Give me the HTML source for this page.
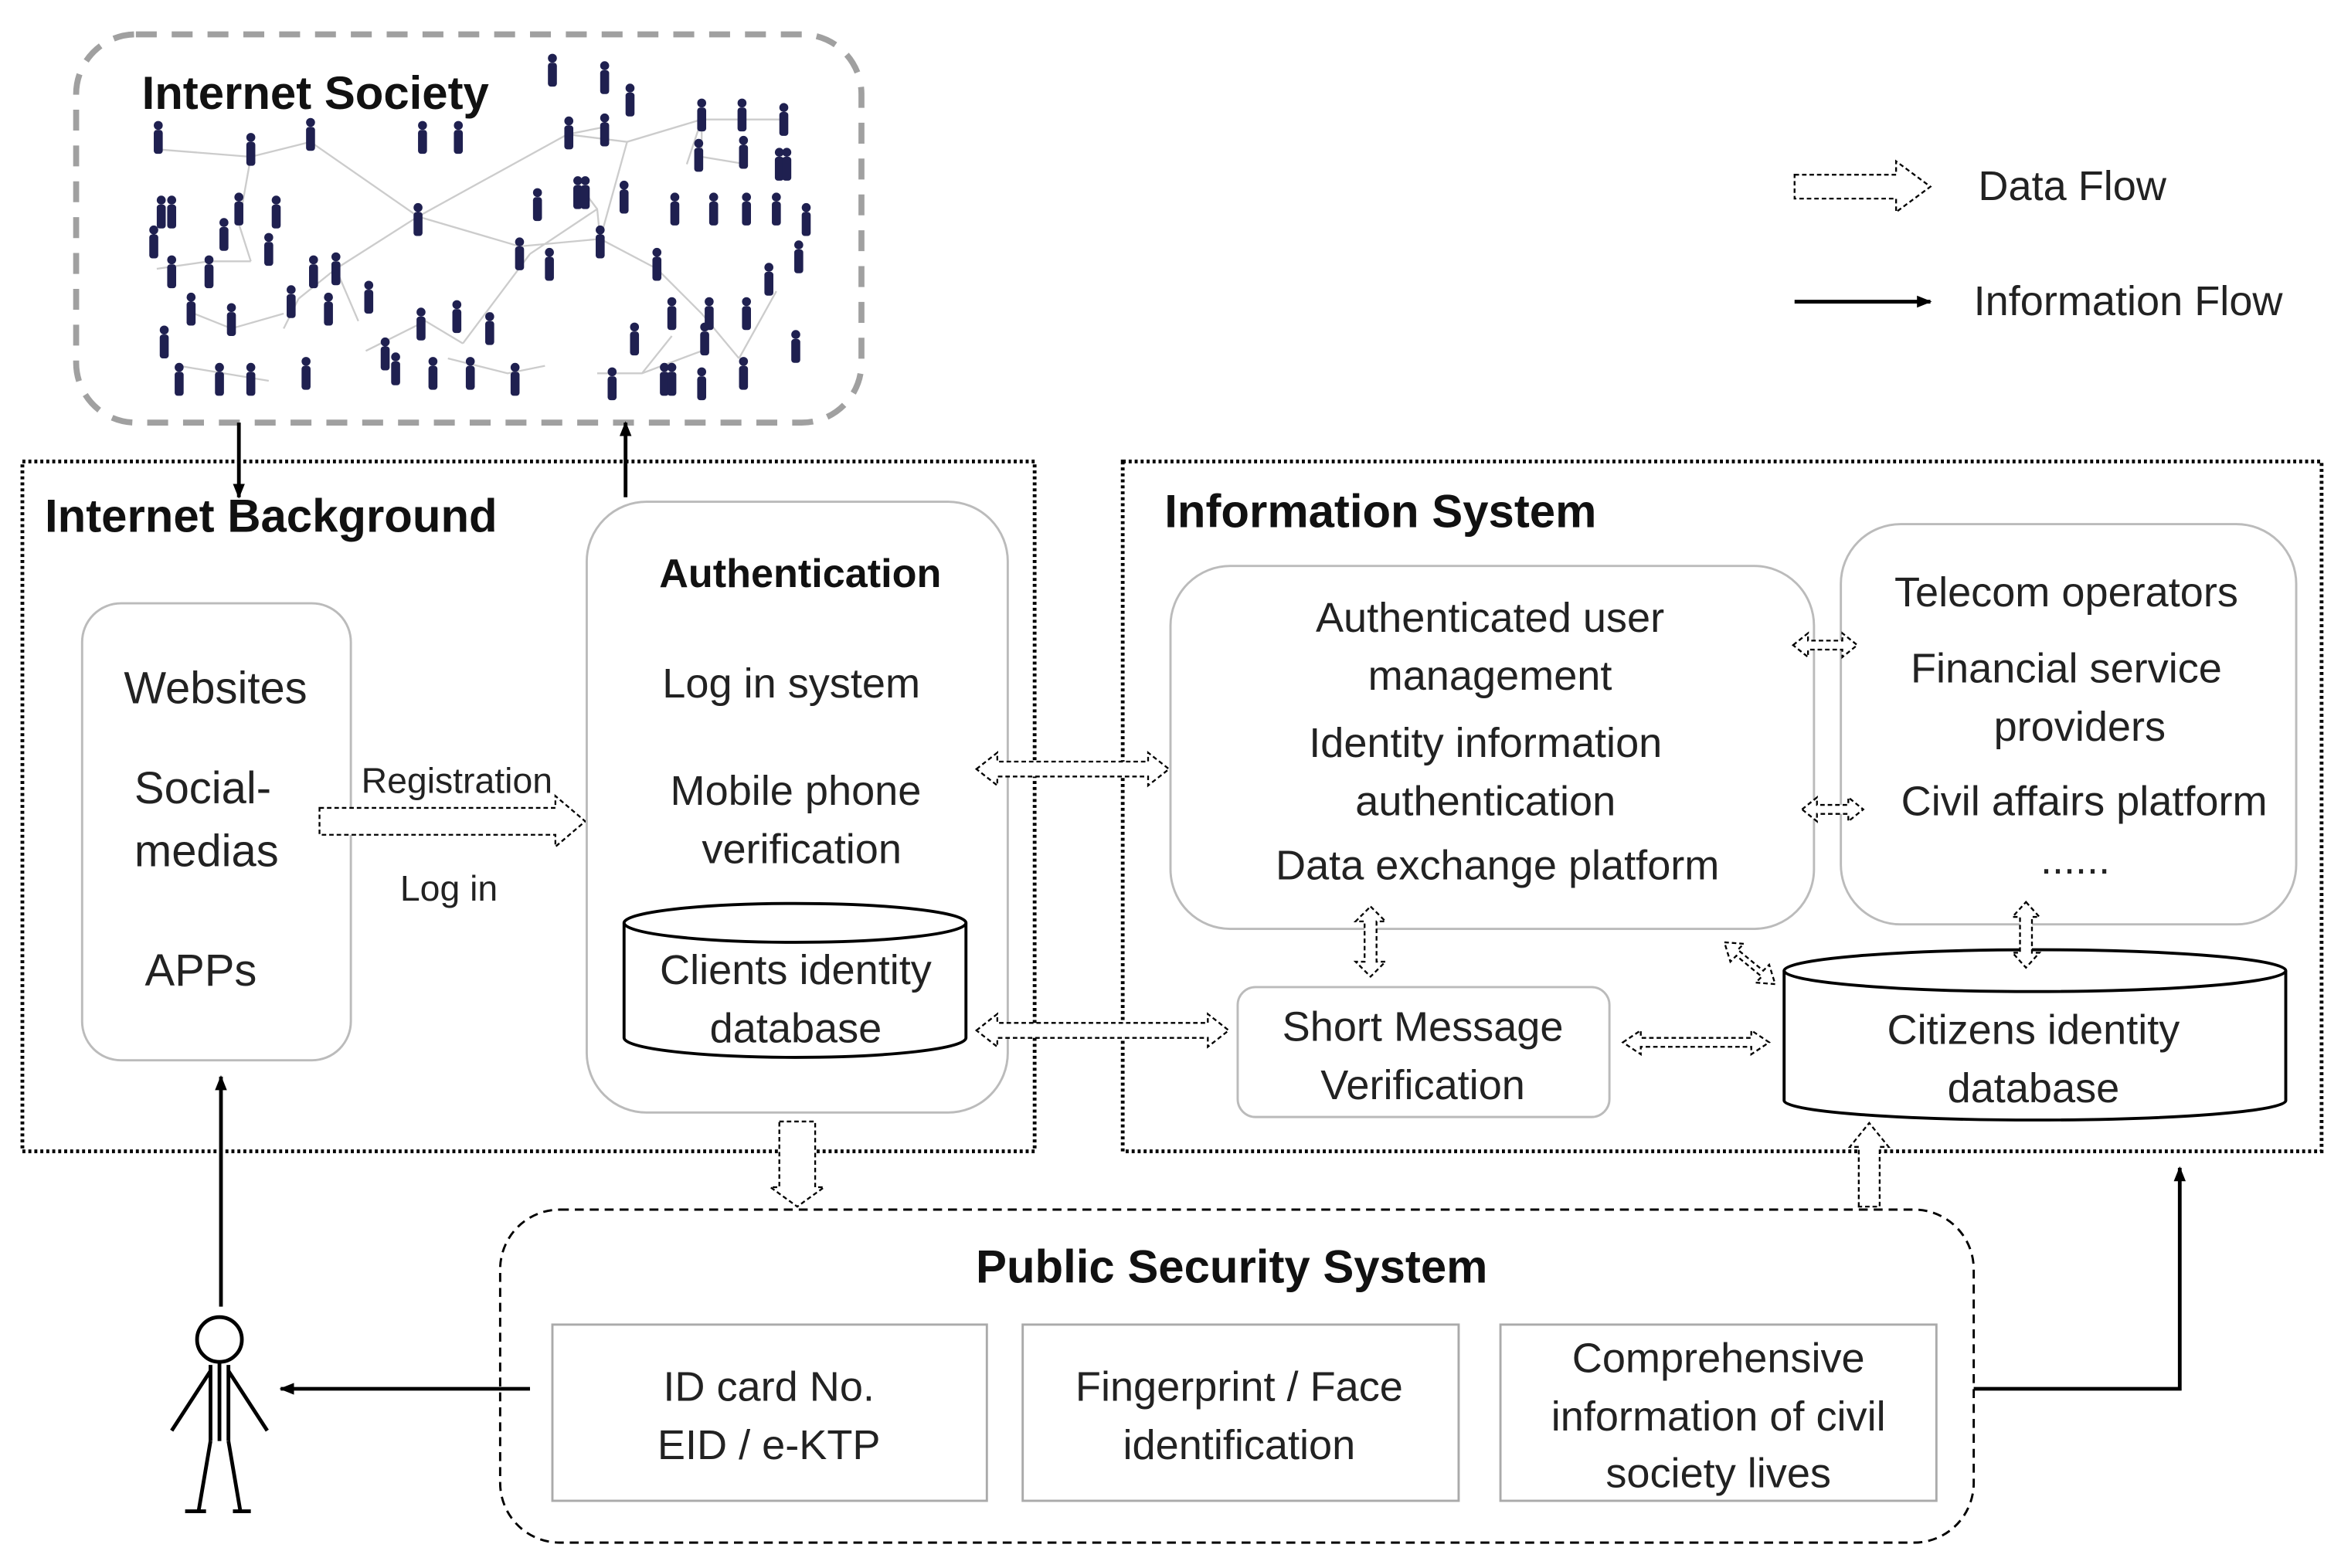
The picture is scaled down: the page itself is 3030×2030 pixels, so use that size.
<!DOCTYPE html>
<html><head><meta charset="utf-8"><style>
html,body{margin:0;padding:0;background:#fff}
svg{display:block}
text{font-family:"Liberation Sans",sans-serif;fill:#222}
.t{font-size:28px}
.b{font-weight:bold;fill:#111}
</style></head><body>
<svg width="3030" height="2030" viewBox="0 0 1568 1050" preserveAspectRatio="none" xmlns="http://www.w3.org/2000/svg">
<defs>
<g id="p"><circle cx="0" cy="-16" r="3" fill="#1f2050"/><rect x="-3" y="-13" width="6" height="16" rx="2" fill="#1f2050"/></g>
<marker id="ah" markerWidth="10" markerHeight="10" refX="9" refY="5" orient="auto" markerUnits="userSpaceOnUse"><path d="M0,1 L10,5 L0,9 z" fill="#000"/></marker>
</defs>
<!-- Internet Society -->
<rect x="51" y="23" width="526" height="260" rx="40" fill="none" stroke="#a0a0a0" stroke-width="4" stroke-dasharray="14,10"/>
<g stroke="#ccc" stroke-width="1.2" fill="none">
<path d="M105,100 L168,105 L208,95 M168,105 L160,150 M208,95 L280,145 L380,90 L405,85 M280,145 L225,180 L200,200 M280,145 L348,165 L402,160 L400,140 L385,120 M402,160 L440,180 M402,160 L420,95 M380,90 L420,95 L470,80 L525,80 M470,80 L470,105 L500,110 M105,180 L140,175 L168,175 M168,175 L160,150 M200,200 L190,220 M225,180 L240,215 M130,210 L155,220 L190,210 M245,235 L285,215 L310,230 M310,230 L355,170 M355,170 L400,140 M440,180 L470,210 L495,240 M495,240 L520,195 M470,80 L460,110 M120,245 L150,250 L180,255 M300,240 L340,250 L365,245 M400,250 L430,250 L470,235 M430,250 L450,225"/>
</g>
<g>
<use href="#p" x="370" y="55"/><use href="#p" x="405" y="60"/><use href="#p" x="422" y="75"/><use href="#p" x="470" y="85"/><use href="#p" x="497" y="85"/><use href="#p" x="525" y="88"/>
<use href="#p" x="106" y="100"/><use href="#p" x="168" y="108"/><use href="#p" x="208" y="98"/><use href="#p" x="283" y="100"/><use href="#p" x="307" y="100"/><use href="#p" x="381" y="97"/><use href="#p" x="405" y="95"/>
<use href="#p" x="468" y="112"/><use href="#p" x="498" y="110"/><use href="#p" x="522" y="118"/><use href="#p" x="527" y="118"/>
<use href="#p" x="108" y="150"/><use href="#p" x="115" y="150"/><use href="#p" x="160" y="148"/><use href="#p" x="185" y="150"/><use href="#p" x="280" y="155"/><use href="#p" x="360" y="145"/><use href="#p" x="387" y="137"/><use href="#p" x="392" y="137"/><use href="#p" x="418" y="140"/><use href="#p" x="452" y="148"/><use href="#p" x="478" y="148"/><use href="#p" x="500" y="148"/><use href="#p" x="520" y="148"/><use href="#p" x="540" y="155"/>
<use href="#p" x="103" y="170"/><use href="#p" x="150" y="165"/><use href="#p" x="180" y="175"/><use href="#p" x="348" y="178"/><use href="#p" x="368" y="185"/><use href="#p" x="402" y="170"/><use href="#p" x="440" y="185"/><use href="#p" x="535" y="180"/>
<use href="#p" x="115" y="190"/><use href="#p" x="140" y="190"/><use href="#p" x="210" y="190"/><use href="#p" x="225" y="188"/><use href="#p" x="195" y="210"/><use href="#p" x="220" y="215"/><use href="#p" x="247" y="207"/><use href="#p" x="515" y="195"/>
<use href="#p" x="128" y="215"/><use href="#p" x="155" y="222"/><use href="#p" x="282" y="225"/><use href="#p" x="306" y="220"/><use href="#p" x="328" y="228"/><use href="#p" x="450" y="218"/><use href="#p" x="475" y="218"/><use href="#p" x="500" y="218"/>
<use href="#p" x="110" y="237"/><use href="#p" x="258" y="245"/><use href="#p" x="425" y="235"/><use href="#p" x="472" y="235"/><use href="#p" x="533" y="240"/>
<use href="#p" x="120" y="262"/><use href="#p" x="147" y="262"/><use href="#p" x="168" y="262"/><use href="#p" x="205" y="258"/><use href="#p" x="265" y="255"/><use href="#p" x="290" y="258"/><use href="#p" x="315" y="258"/><use href="#p" x="345" y="262"/><use href="#p" x="410" y="265"/><use href="#p" x="445" y="262"/><use href="#p" x="450" y="262"/><use href="#p" x="470" y="265"/><use href="#p" x="498" y="258"/>
</g>
<text x="95" y="73" class="b" style="font-size:31px">Internet Society</text>
<line x1="160" y1="283" x2="160" y2="333" stroke="#000" stroke-width="2.5" marker-end="url(#ah)"/>
<line x1="419" y1="333" x2="419" y2="283" stroke="#000" stroke-width="2.5" marker-end="url(#ah)"/>
<!-- Legend -->
<path d="M1202,117 H1270 V108 L1293,125 L1270,142 V133 H1202 Z" fill="#fff" stroke="#000" stroke-width="1.2" stroke-dasharray="3,2"/>
<text x="1325" y="134" class="t">Data Flow</text>
<line x1="1202" y1="202" x2="1293" y2="202" stroke="#000" stroke-width="2.5" marker-end="url(#ah)"/>
<text x="1322" y="211" class="t">Information Flow</text>
<!-- Internet Background -->
<rect x="15" y="309" width="678" height="462" fill="none" stroke="#000" stroke-width="2.5" stroke-dasharray="2,2"/>
<text x="30" y="356" class="b" style="font-size:31px">Internet Background</text>
<rect x="55" y="404" width="180" height="306" rx="26" fill="#fff" stroke="#bbb" stroke-width="1.5"/>
<text x="83" y="471" class="t" style="font-size:30px">Websites</text>
<text x="90" y="538" class="t" style="font-size:30px">Social-</text>
<text x="90" y="580" class="t" style="font-size:30px">medias</text>
<text x="97" y="660" class="t" style="font-size:30px">APPs</text>
<path d="M214,541 H372 V533 L392,550 L372,567 V559 H214 Z" fill="#fff" stroke="#000" stroke-width="1.2" stroke-dasharray="3,2"/>
<text x="242" y="531" style="font-size:24px">Registration</text>
<text x="268" y="603" style="font-size:24px">Log in</text>
<rect x="393" y="336" width="282" height="409" rx="40" fill="#fff" stroke="#bbb" stroke-width="1.5"/>
<text x="536" y="393" class="b" text-anchor="middle" style="font-size:27px">Authentication</text>
<text x="530" y="467" class="t" text-anchor="middle">Log in system</text>
<text x="533" y="539" class="t" text-anchor="middle">Mobile phone</text>
<text x="537" y="578" class="t" text-anchor="middle">verification</text>
<path d="M418,618 V695 A114,13 0 0 0 647,695 V618" fill="#fff" stroke="#000" stroke-width="2"/>
<ellipse cx="532.5" cy="618" rx="114.5" ry="13" fill="#fff" stroke="#000" stroke-width="2"/>
<text x="533" y="659" class="t" text-anchor="middle">Clients  identity</text>
<text x="533" y="698" class="t" text-anchor="middle">database</text>
<!-- Information System -->
<rect x="752" y="309" width="803" height="462" fill="none" stroke="#000" stroke-width="2.5" stroke-dasharray="2,2"/>
<text x="780" y="353" class="b" style="font-size:31px">Information System</text>
<rect x="784" y="379" width="431" height="243" rx="40" fill="#fff" stroke="#bbb" stroke-width="1.5"/>
<text x="998" y="423" class="t" text-anchor="middle">Authenticated user</text>
<text x="998" y="462" class="t" text-anchor="middle">management</text>
<text x="995" y="507" class="t" text-anchor="middle">Identity information</text>
<text x="995" y="546" class="t" text-anchor="middle">authentication</text>
<text x="1003" y="589" class="t" text-anchor="middle">Data exchange platform</text>
<rect x="1233" y="351" width="305" height="268" rx="40" fill="#fff" stroke="#bbb" stroke-width="1.5"/>
<text x="1384" y="406" class="t" text-anchor="middle">Telecom operators</text>
<text x="1384" y="457" class="t" text-anchor="middle">Financial  service</text>
<text x="1393" y="496" class="t" text-anchor="middle">providers</text>
<text x="1396" y="546" class="t" text-anchor="middle">Civil affairs platform</text>
<text x="1390" y="585" class="t" text-anchor="middle">......</text>
<rect x="829" y="661" width="249" height="87" rx="12" fill="#fff" stroke="#bbb" stroke-width="1.5"/>
<text x="953" y="697" class="t" text-anchor="middle">Short Message</text>
<text x="953" y="736" class="t" text-anchor="middle">Verification</text>
<path d="M1195,650 V737 A168,13 0 0 0 1531,737 V650" fill="#fff" stroke="#000" stroke-width="2"/>
<ellipse cx="1363" cy="650" rx="168" ry="14" fill="#fff" stroke="#000" stroke-width="2"/>
<text x="1362" y="699" class="t" text-anchor="middle">Citizens  identity</text>
<text x="1362" y="738" class="t" text-anchor="middle">database</text>
<!-- Public Security -->
<rect x="335" y="810" width="987" height="223" rx="40" fill="#fff" stroke="#000" stroke-width="1.5" stroke-dasharray="6,4"/>
<text x="825" y="859" class="b" text-anchor="middle" style="font-size:31px">Public Security System</text>
<rect x="370" y="887" width="291" height="118" fill="#fff" stroke="#aaa" stroke-width="1.5"/>
<rect x="685" y="887" width="292" height="118" fill="#fff" stroke="#aaa" stroke-width="1.5"/>
<rect x="1005" y="887" width="292" height="118" fill="#fff" stroke="#aaa" stroke-width="1.5"/>
<text x="515" y="938" class="t" text-anchor="middle">ID card No.</text>
<text x="515" y="977" class="t" text-anchor="middle">EID / e-KTP</text>
<text x="830" y="938" class="t" text-anchor="middle">Fingerprint / Face</text>
<text x="830" y="977" class="t" text-anchor="middle">identification</text>
<text x="1151" y="919" class="t" text-anchor="middle">Comprehensive</text>
<text x="1151" y="958" class="t" text-anchor="middle">information of civil</text>
<text x="1151" y="996" class="t" text-anchor="middle">society lives</text>
<!-- double arrows (drawn on top) -->
<g fill="#fff" stroke="#000" stroke-width="1.2" stroke-dasharray="3,2">
<path d="M654,515 L668,504 V510 H769 V504 L783,515 L769,526 V520 H668 V526 Z"/>
<path d="M654,690 L668,679 V685 H809 V679 L823,690 L809,701 V695 H668 V701 Z"/>
<path d="M1087,698 L1099,690 V695 H1173 V690 L1185,698 L1173,706 V701 H1099 V706 Z"/>
<path d="M1201,432 L1211,424 V429 H1234 V424 L1244,432 L1234,440 V435 H1211 V440 Z"/>
<path d="M1207,542 L1217,534 V539 H1238 V534 L1248,542 L1238,550 V545 H1217 V550 Z"/>
<path d="M918,607 L928,617 H922 V644 H928 L918,654 L908,644 H914 V617 H908 Z"/>
<path d="M1357,604 L1366,614 H1361 V638 H1366 L1357,648 L1348,638 H1353 V614 H1348 Z"/>
<path d="M1155,631 L1168,632 L1164,636 L1181,650 L1185,646 L1189,659 L1176,658 L1180,654 L1163,640 L1159,644 Z"/>
<path d="M522,751 H546 V795 H552 L534,808 L516,795 H522 Z"/>
<path d="M1245,808 V768 H1239 L1252,752 L1265,768 H1259 V808 Z"/>
</g>
<!-- flows -->
<line x1="355" y1="930" x2="188" y2="930" stroke="#000" stroke-width="2.5" marker-end="url(#ah)"/>
<line x1="148" y1="875" x2="148" y2="721" stroke="#000" stroke-width="2.5" marker-end="url(#ah)"/>
<polyline points="1322,930 1460,930 1460,782" fill="none" stroke="#000" stroke-width="2.5" marker-end="url(#ah)"/>
<!-- stick figure -->
<g stroke="#000" stroke-width="2.5" fill="none">
<circle cx="147" cy="897" r="15" fill="#fff"/>
<line x1="147" y1="912" x2="147" y2="965"/>
<line x1="141" y1="914" x2="141" y2="965"/><line x1="153" y1="914" x2="153" y2="965"/>
<path d="M141,918 L115,958 M153,918 L179,958"/>
<path d="M141,965 L133,1012 M153,965 L161,1012"/>
<path d="M124,1012 H138 M156,1012 H168"/>
</g>
</svg>
</body></html>
